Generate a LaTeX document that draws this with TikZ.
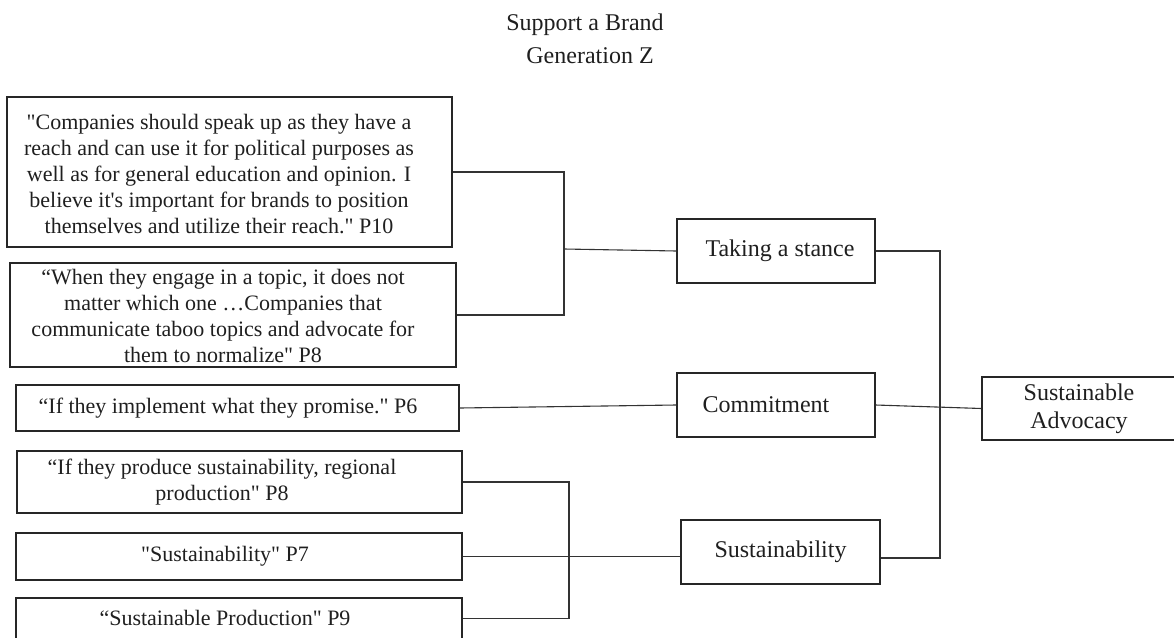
\documentclass[tikz,border=0pt]{standalone}
\usepackage{fontspec}
\setmainfont{Liberation Serif}[Ligatures=TeXOff]
\begin{document}
\begin{tikzpicture}[x=1pt,y=-1pt,
  quote/.style={draw=black!85, line width=1.3pt, inner sep=0pt},
  qtext/.style={inner sep=0pt, align=center, text=black!88,
    font=\fontsize{22}{26}\selectfont},
  theme/.style={draw=black!85, line width=1.3pt, inner sep=0pt, align=center,
    text=black!88, font=\fontsize{24}{28}\selectfont,
    minimum width=198pt, minimum height=64pt},
  link/.style={draw=black!80, line width=1.1pt},
  heading/.style={anchor=base, text=black!88, font=\fontsize{24}{28}\selectfont}]
\useasboundingbox (0,0) rectangle (1174,637);

% title
\node[heading] (t1) at (585,30) {Support a Brand};
\node[heading] (t2) at (590,63) {Generation Z};

% participant quotes: frames, with their text set a little left of centre
\node[quote, minimum width=445pt, minimum height=150pt] (b1) at (229.5,172) {};
\node[qtext] (b1t) at (219,174)
  {"Companies should speak up as they have a\\
   reach and can use it for political purposes as\\
   well as for general education and opinion. I\\
   believe it's important for brands to position\\
   themselves and utilize their reach." P10};
\node[quote, minimum width=446pt, minimum height=104pt] (b2) at (233,315) {};
\node[qtext] (b2t) at (223,316)
  {“When they engage in a topic, it does not\\
   matter which one …Companies that\\
   communicate taboo topics and advocate for\\
   them to normalize" P8};
\node[quote, minimum width=443pt, minimum height=46pt] (b3) at (237.5,408) {};
\node[qtext] (b3t) at (228,408) {“If they implement what they promise." P6};
\node[quote, minimum width=445pt, minimum height=62pt] (b4) at (239.5,482) {};
\node[qtext] (b4t) at (222,482) {“If they produce sustainability, regional\\ production" P8};
\node[quote, minimum width=446pt, minimum height=47pt] (b5) at (239,556.5) {};
\node[qtext] (b5t) at (225,556.5) {"Sustainability" P7};
\node[quote, minimum width=446pt, minimum height=41pt] (b6) at (239,618.5) {};
\node[qtext] (b6t) at (225,618) {“Sustainable Production" P9};

% themes
\node[theme] (stance) at (776,251) {\hspace*{8pt}Taking a stance};
\node[theme] (commit) at (776,405) {Commitment\hspace*{20pt}};
\node[theme, minimum width=199pt] (sustain) at (780.5,552) {Sustainability};
\node[theme, minimum width=194pt, minimum height=63pt] (advocacy) at (1079,408.5)
  {Sustainable\\ Advocacy};

% junction points of the brackets
\coordinate (j1) at (564,249);
\coordinate (j2) at (569,555);
\coordinate (j3) at (940,558);

% connectors
\draw[link] (b1.east) -| (j1) |- (b2.east);
\draw[link] (j1) -- (stance.west);
\draw[link] (b3.east) -- (commit.west);
\draw[link] (commit.east) -- (advocacy.west);
\draw[link] (b4.east) -| (j2) |- (b6.east);
\draw[link] (b5.east) -- (b5.east -| sustain.west);
\draw[link] (stance.east) -| (j3) -- (j3 -| sustain.east);
\end{tikzpicture}
\end{document}
